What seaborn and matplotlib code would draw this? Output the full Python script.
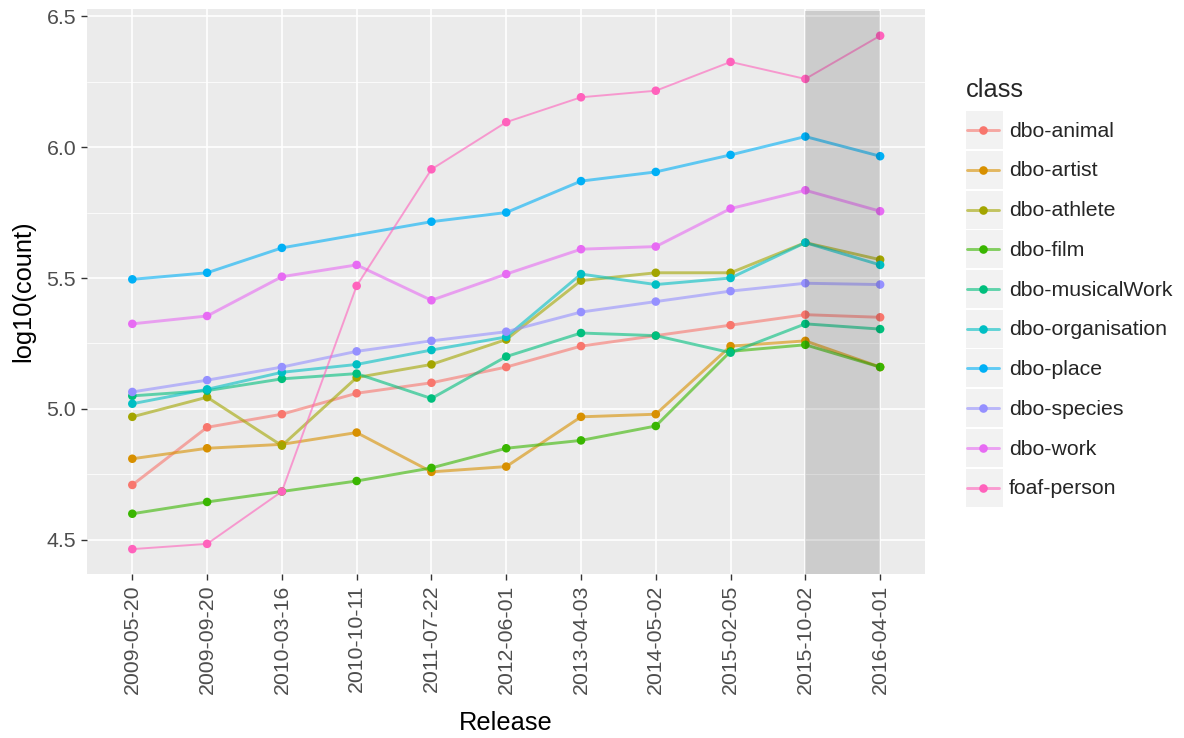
import numpy as np
import pandas as pd
import matplotlib
matplotlib.use("Agg")
import matplotlib.pyplot as plt
import seaborn as sns
from matplotlib.legend_handler import HandlerBase
from matplotlib.patches import Rectangle
from matplotlib.lines import Line2D
from matplotlib.ticker import MultipleLocator, FormatStrFormatter

# DBpedia releases and log10 instance counts per class
releases = ["2009-05-20", "2009-09-20", "2010-03-16", "2010-10-11", "2011-07-22",
            "2012-06-01", "2013-04-03", "2014-05-02", "2015-02-05", "2015-10-02",
            "2016-04-01"]

classes = ["dbo-animal", "dbo-artist", "dbo-athlete", "dbo-film", "dbo-musicalWork",
           "dbo-organisation", "dbo-place", "dbo-species", "dbo-work", "foaf-person"]

dbo_animal = [4.71, 4.93, 4.98, 5.06, 5.10, 5.16, 5.24, 5.28, 5.32, 5.36, 5.35]
dbo_artist = [4.81, 4.85, 4.865, 4.91, 4.76, 4.78, 4.97, 4.98, 5.24, 5.26, 5.16]
dbo_athlete = [4.97, 5.045, 4.86, 5.12, 5.17, 5.265, 5.49, 5.52, 5.52, 5.635, 5.57]
dbo_film = [4.60, 4.645, 4.685, 4.725, 4.775, 4.85, 4.88, 4.935, 5.22, 5.245, 5.16]
dbo_musicalWork = [5.05, 5.07, 5.115, 5.135, 5.04, 5.20, 5.29, 5.28, 5.215, 5.325, 5.305]
dbo_organisation = [5.02, 5.075, 5.14, 5.17, 5.225, 5.275, 5.515, 5.475, 5.50, 5.635, 5.55]
dbo_place = [5.495, 5.52, 5.615, None, 5.715, 5.75, 5.87, 5.905, 5.97, 6.04, 5.965]
dbo_species = [5.065, 5.11, 5.16, 5.22, 5.26, 5.295, 5.37, 5.41, 5.45, 5.48, 5.475]
dbo_work = [5.325, 5.355, 5.505, 5.55, 5.415, 5.515, 5.61, 5.62, 5.765, 5.835, 5.755]
foaf_person = [4.465, 4.485, 4.685, 5.47, 5.915, 6.095, 6.19, 6.215, 6.325, 6.26, 6.425]

series = [dbo_animal, dbo_artist, dbo_athlete, dbo_film, dbo_musicalWork,
          dbo_organisation, dbo_place, dbo_species, dbo_work, foaf_person]

highlight_start = "2015-10-02"
highlight_end = "2016-04-01"

palette = ["#F8766D", "#D89000", "#A3A500", "#39B600", "#00BF7D",
           "#00BFC4", "#00B0F6", "#9590FF", "#E76BF3", "#FF62BC"]
colors = dict(zip(classes, palette))

rows = []
for cls, vals in zip(classes, series):
    for rel, v in zip(releases, vals):
        if v is not None:
            rows.append({"Release": rel, "count": v, "class": cls})
df = pd.DataFrame(rows)

sns.set_theme(style="white")
plt.rcParams["font.family"] = ["Liberation Sans", "DejaVu Sans"]

fig = plt.figure(figsize=(11.84, 7.38), dpi=100)
ax = fig.add_axes([87 / 1184, 1 - 574 / 738, (925 - 87) / 1184, (574 - 9) / 738])
ax.set_facecolor("#EBEBEB")
for s in ax.spines.values():
    s.set_visible(False)

widths = {c: 2.1 for c in classes}
widths["foaf-person"] = 1.4

sns.lineplot(data=df, x="Release", y="count", hue="class", palette=colors,
             size="class", sizes=widths, alpha=0.6, estimator=None, sort=False,
             legend=False, ax=ax, zorder=2)
sns.scatterplot(data=df, x="Release", y="count", hue="class", palette=colors,
                s=38, edgecolor="none", linewidth=0, legend=False, ax=ax, zorder=3)

# shaded band over the most recent releases
x0 = releases.index(highlight_start)
x1 = releases.index(highlight_end)
ax.axvspan(x0, x1, ymin=0, ymax=0.996, color="black", alpha=0.13, lw=0, zorder=4)

ax.set_xlim(-0.606, len(releases) - 1 + 0.6)
ax.set_ylim(4.37, 6.527)
ax.yaxis.set_major_locator(MultipleLocator(0.5))
ax.yaxis.set_minor_locator(MultipleLocator(0.25))
ax.yaxis.set_major_formatter(FormatStrFormatter("%.1f"))

ax.grid(which="major", color="white", linewidth=1.2, zorder=0)
ax.grid(which="minor", axis="y", color="white", linewidth=0.55, zorder=0)
ax.set_axisbelow(True)

ax.tick_params(which="major", length=4.3, width=1.0, color="#333333",
               labelcolor="#4D4D4D", labelsize=15.3, pad=3.5)
ax.tick_params(which="minor", length=0)
ax.tick_params(axis="x", labelrotation=90)
ax.tick_params(axis="y", left=True)
ax.tick_params(axis="x", bottom=True)

ax.set_xlabel("Release", fontsize=18.3, color="black", labelpad=12)
ax.set_ylabel("log10(count)", fontsize=18.3, color="black", labelpad=8)


class KeyHandler(HandlerBase):
    def create_artists(self, legend, orig_handle, xdescent, ydescent, width,
                       height, fontsize, trans):
        bg = Rectangle((-xdescent, -ydescent), width, height, facecolor="#F2F2F2",
                       edgecolor="none", transform=trans)
        y = -ydescent + height / 2
        c = orig_handle.get_color()
        ln = Line2D([-xdescent + 0.04 * width, -xdescent + 0.9 * width], [y, y],
                    color=c, lw=2.1, alpha=0.6, transform=trans)
        dot = Line2D([-xdescent + 0.47 * width], [y], marker="o", markersize=6.2,
                     markeredgewidth=0, color=c, linestyle="none", transform=trans)
        return [bg, ln, dot]


handles = [Line2D([], [], color=colors[c]) for c in classes]
leg = fig.legend(handles, classes, handler_map={Line2D: KeyHandler()},
                 loc="upper left", bbox_to_anchor=(966 / 1184, 1 - 78 / 738),
                 frameon=False, fontsize=15.3, title="class", title_fontsize=18.3,
                 handlelength=1.74, handleheight=2.377, labelspacing=0.08,
                 handletextpad=0.28, borderpad=0, borderaxespad=0,
                 alignment="left")
# a little more room between the legend title and the keys
leg._legend_box.sep = 6.5

fig.savefig("out.png", dpi=100, facecolor="white")
